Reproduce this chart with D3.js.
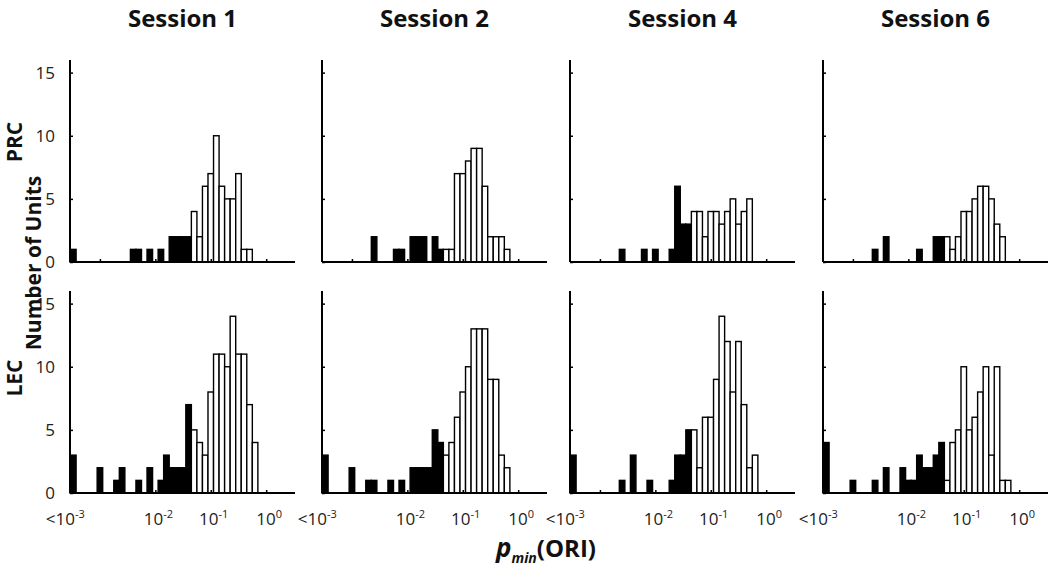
<!DOCTYPE html>
<html><head><meta charset="utf-8">
<script src="https://cdn.jsdelivr.net/npm/d3@7"></script>
<style>
html,body{margin:0;padding:0;background:#fff;}
svg{display:block;font-family:"Open Sans",sans-serif;}
</style></head>
<body>
<svg id="chart" width="1050" height="566"></svg>
<script>
// ---- data ----
const sessions = ["Session 1", "Session 2", "Session 4", "Session 6"];
const regions = ["PRC", "LEC"];
// log10(p) bin centres, 0.1-decade bins
const binCenters = [-3.0,-2.9,-2.8,-2.7,-2.6,-2.5,-2.4,-2.3,-2.2,-2.1,-2.0,-1.9,-1.8,-1.7,-1.6,-1.5,-1.4,-1.3,-1.2,-1.1,-1.0,-0.9,-0.8,-0.7,-0.6,-0.5,-0.4,-0.3,-0.2,-0.1];
const binWidth = 0.1;
const belowBin = [-3.54, -3.43];   // the "<10^-3" bin
const sigThreshold = -1.35;        // bins left of this are filled (p < 0.05)
// counts in the "<10^-3" bin, per panel
const prcBelow = [1, 0, 0, 0];
const lecBelow = [3, 3, 3, 4];
// counts per bin (30 bins each)
const prcS1 = [0,0,0,0,0,0,1,1,0,1,0,1,0,2,2,2,2,4,2,6,7,10,6,5,5,7,1,1,0,0];
const prcS2 = [0,0,0,0,2,0,0,0,1,1,0,2,2,2,0,2,1,1,1,7,7,8,9,9,6,2,2,2,1,0];
const prcS4 = [0,0,0,0,1,0,0,0,1,0,1,0,0,1,6,3,3,4,4,2,4,4,3,4,5,3,4,5,0,0];
const prcS6 = [0,0,0,0,1,0,2,0,0,0,0,0,1,0,0,2,2,2,1,2,4,4,5,6,6,5,3,2,0,0];
const lecS1 = [2,0,0,1,2,0,0,1,0,2,0,1,3,2,2,2,7,5,4,3,8,11,11,10,14,11,11,7,4,0];
const lecS2 = [2,0,0,1,1,0,0,1,0,1,0,2,2,2,2,5,4,3,4,6,8,10,13,13,13,9,9,3,2,0];
const lecS4 = [0,0,0,0,1,0,3,0,0,1,0,0,0,1,3,3,5,5,2,6,6,9,14,12,8,12,7,2,3,0];
const lecS6 = [1,0,0,0,1,0,2,0,0,2,1,1,3,2,2,3,4,1,4,5,10,5,6,8,10,3,10,1,1,0];
const prcCounts = [prcS1, prcS2, prcS4, prcS6];
const lecCounts = [lecS1, lecS2, lecS4, lecS6];
const xTicks = [-3, -2, -1, 0];
const xTickLabels = [["<10","-3"], ["10","-2"], ["10","-1"], ["10","0"]];
const xLabelPos = [-3.5, -2, -1, 0];
const yTicks = [0, 5, 10, 15];

// ---- layout ----
const svg = d3.select("#chart");
const panelLeft = [70, 322, 570, 823];
const panelW = 225;
const rowBase = [262, 493];
const panelH = 202;

const y = d3.scaleLinear().domain([0, 16]).range([panelH, 0]);

function drawPanel(col, row, counts, below) {
  const x = d3.scaleLinear().domain([-3.54, 0.52]).range([0, panelW]);
  const g = svg.append("g").attr("transform", `translate(${panelLeft[col]},${rowBase[row]-panelH})`);
  const bins = binCenters.map((c, i) => ({x0: c - binWidth/2, x1: c + binWidth/2, n: counts[i]}))
    .filter(d => d.n > 0);
  if (below > 0) bins.unshift({x0: belowBin[0], x1: belowBin[1], n: below});
  g.selectAll("rect.bar").data(bins).enter().append("rect")
    .attr("class", "bar")
    .attr("x", d => x(d.x0))
    .attr("width", d => x(d.x1) - x(d.x0))
    .attr("y", d => y(d.n))
    .attr("height", d => y(0) - y(d.n))
    .attr("fill", d => (d.x1 <= sigThreshold + 1e-9) ? "#000" : "#fff")
    .attr("stroke", "#000")
    .attr("stroke-width", 1.4);

  // x axis
  const xa = d3.axisBottom(x).tickValues(xTicks).tickSize(-3).tickFormat("");
  const gx = g.append("g").attr("transform", `translate(0,${panelH})`).call(xa);
  gx.select(".domain").attr("d", `M0,0H${panelW}`).attr("stroke-width", 2);
  gx.selectAll(".tick line").attr("stroke-width", 1.5);
  // y axis
  const ya = d3.axisLeft(y).tickValues(yTicks).tickSize(-3).tickFormat("");
  const gy = g.append("g").call(ya);
  gy.select(".domain").attr("d", `M0,0V${panelH}`).attr("stroke-width", 2);
  gy.selectAll(".tick line").attr("stroke-width", 1.5);

  if (col === 0) {
    g.selectAll("text.ytl").data(yTicks).enter().append("text")
      .attr("class", "ytl")
      .attr("x", -15).attr("y", d => y(d)).attr("dy", "0.36em")
      .attr("text-anchor", "end")
      .attr("font-size", 17).attr("fill", "#222")
      .text(d => d);
  }
  if (row === 1) {
    xLabelPos.forEach((v, i) => {
      const t = g.append("text")
        .attr("x", x(v) + (i === 0 ? -7 : 3)).attr("y", panelH + 32)
        .attr("text-anchor", "middle").attr("font-size", 17).attr("fill", "#222");
      t.append("tspan").text(xTickLabels[i][0]);
      t.append("tspan").attr("dy", -7).attr("font-size", 11).text(xTickLabels[i][1]);
    });
  }
  if (row === 0) {
    svg.append("text")
      .attr("x", panelLeft[col] + panelW/2).attr("y", 27)
      .attr("text-anchor", "middle").attr("font-size", 24).attr("font-weight", 700)
      .attr("fill", "#111")
      .text(sessions[col]);
  }
}

for (let c = 0; c < 4; c++) {
  drawPanel(c, 0, prcCounts[c], prcBelow[c]);
  drawPanel(c, 1, lecCounts[c], lecBelow[c]);
}

// row labels
[[142, regions[0]], [378, regions[1]]].forEach(([cy, t]) => {
  svg.append("text").attr("transform", `translate(22,${cy}) rotate(-90)`)
    .attr("text-anchor", "middle").attr("font-size", 21).attr("font-weight", 700).attr("fill", "#111")
    .text(t);
});
svg.append("text").attr("transform", `translate(41,263) rotate(-90)`)
  .attr("text-anchor", "middle").attr("font-size", 21).attr("font-weight", 700).attr("fill", "#111")
  .text("Number of Units");

// x label
const xl = svg.append("text").attr("x", 546).attr("y", 557)
  .attr("text-anchor", "middle").attr("font-weight", 700).attr("fill", "#111").attr("font-size", 24);
xl.append("tspan").attr("font-style", "italic").attr("font-size", 26).text("p");
xl.append("tspan").attr("font-style", "italic").attr("font-size", 14).attr("dy", 6).text("min");
xl.append("tspan").attr("dy", -6).text("(ORI)");
</script>
</body></html>
